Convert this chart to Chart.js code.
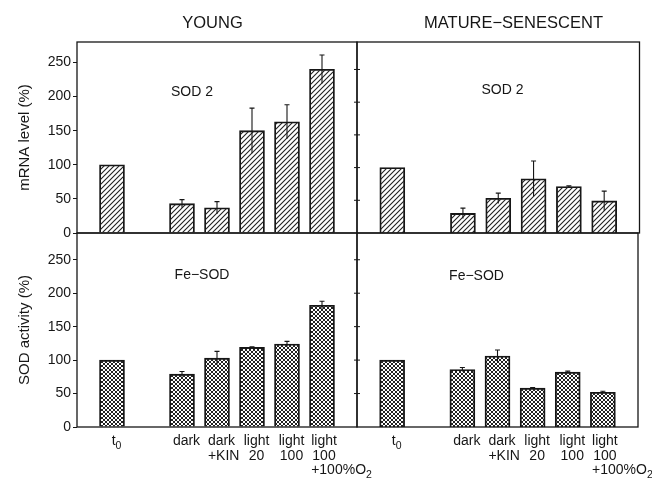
<!DOCTYPE html>
<html>
<head>
<meta charset="utf-8">
<script src="https://cdn.jsdelivr.net/npm/chart.js@4.4.1/dist/chart.umd.min.js"></script>
<style>
  body { margin: 0; background: #fff; }
  #wrap { position: relative; width: 652px; height: 480px; }
  #wrap canvas { position: absolute; left: 0; top: 0; }
</style>
</head>
<body>
<div id="wrap">
  <canvas id="youngMrna" width="652" height="480"></canvas>
  <canvas id="matureMrna" width="652" height="480"></canvas>
  <canvas id="youngSod" width="652" height="480"></canvas>
  <canvas id="matureSod" width="652" height="480"></canvas>
</div>
<script>
// slots 0, 2 and 8 are empty spacers so bars land where the figure has them
const categories = ['', 't₀', '', 'dark', ['dark', '+KIN'], ['light', '20'], ['light', '100'], ['light', '100', '+100%O₂'], ''];

const youngMrna      = [null, 100, null, 43, 37, 150, 163, 240, null];
const youngMrnaErr   = [null, 0, null, 6, 9, 33, 25, 21, null];
const matureMrna     = [null, 100, null, 30, 53, 83, 71, 49, null];
const matureMrnaErr  = [null, 0, null, 8, 8, 27, 1, 15, null];
const youngSod       = [null, 100, null, 79, 103, 119, 124, 182, null];
const youngSodErr    = [null, 0, null, 4, 10, 1, 4, 6, null];
const matureSod      = [null, 100, null, 86, 106, 58, 82, 52, null];
const matureSodErr   = [null, 0, null, 3, 9, 1, 1.5, 1.5, null];

const yTicks = [0, 50, 100, 150, 200, 250];

const FONT = '"Liberation Sans", Arial, sans-serif';
const INK = '#161616';

function makeHatch() {
  const c = document.createElement('canvas');
  c.width = 5; c.height = 5;
  const g = c.getContext('2d');
  g.strokeStyle = '#222';
  g.lineWidth = 1.1;
  g.beginPath();
  g.moveTo(0, 5); g.lineTo(5, 0);
  g.moveTo(-1, 1); g.lineTo(1, -1);
  g.moveTo(4, 6); g.lineTo(6, 4);
  g.stroke();
  return g.createPattern(c, 'repeat');
}

function makeCross() {
  const c = document.createElement('canvas');
  c.width = 4; c.height = 4;
  const g = c.getContext('2d');
  g.strokeStyle = '#222';
  g.lineWidth = 1;
  g.beginPath();
  g.moveTo(0, 4); g.lineTo(4, 0);
  g.moveTo(0, 0); g.lineTo(4, 4);
  g.stroke();
  return g.createPattern(c, 'repeat');
}

const hatch = makeHatch();
const cross = makeCross();

// draws text, turning unicode subscript digits into lowered small digits
const SUBS = '₀₁₂₃₄₅₆₇₈₉';
function richParts(text) {
  const parts = [];
  for (const ch of text) {
    const sub = SUBS.indexOf(ch) >= 0;
    const c = sub ? String(SUBS.indexOf(ch)) : ch;
    const last = parts[parts.length - 1];
    if (last && last.sub === sub) last.t += c; else parts.push({ t: c, sub });
  }
  return parts;
}
function richWidth(ctx, text, size) {
  let w = 0;
  richParts(text).forEach(p => {
    ctx.font = (p.sub ? size * 0.75 : size) + 'px ' + FONT;
    w += ctx.measureText(p.t).width;
  });
  return w;
}
function drawRich(ctx, text, x, y, size) {
  let cx = x;
  richParts(text).forEach(p => {
    ctx.font = (p.sub ? size * 0.75 : size) + 'px ' + FONT;
    ctx.fillText(p.t, cx, p.sub ? y + size * 0.3 : y);
    cx += ctx.measureText(p.t).width;
  });
}

function makePanel(id, cfg) {
  const decor = {
    id: 'decor',
    afterDatasetsDraw(chart) {
      const ctx = chart.ctx;
      const y = chart.scales.y;
      const meta = chart.getDatasetMeta(0);
      ctx.save();
      ctx.strokeStyle = INK;
      ctx.lineWidth = 1.1;
      meta.data.forEach((bar, i) => {
        const v = cfg.values[i], e = cfg.errors[i];
        if (v == null || !e) return;
        const top = y.getPixelForValue(v + e);
        const bot = y.getPixelForValue(v - e);
        ctx.beginPath();
        ctx.moveTo(bar.x, bot); ctx.lineTo(bar.x, top);
        ctx.moveTo(bar.x - 2.5, top); ctx.lineTo(bar.x + 2.5, top);
        ctx.stroke();
      });
      ctx.restore();
    },
    afterDraw(chart) {
      const ctx = chart.ctx;
      const a = chart.chartArea;
      const y = chart.scales.y;
      const x = chart.scales.x;
      ctx.save();
      ctx.strokeStyle = INK;
      ctx.lineWidth = 1.3;
      ctx.strokeRect(a.left, a.top, a.right - a.left, a.bottom - a.top);

      if (cfg.innerTicks) {
        ctx.lineWidth = 1;
        yTicks.slice(1).forEach(t => {
          const py = y.getPixelForValue(t);
          ctx.beginPath();
          ctx.moveTo(a.left - 3, py); ctx.lineTo(a.left + 3, py);
          ctx.stroke();
        });
      }

      ctx.fillStyle = INK;
      ctx.textBaseline = 'middle';
      ctx.textAlign = 'center';
      ctx.font = '14px ' + FONT;
      ctx.fillText(cfg.label, a.left + cfg.labelDx, a.top + cfg.labelDy);

      if (cfg.header) {
        ctx.font = '16.5px ' + FONT;
        ctx.fillText(cfg.header, cfg.headerX, 23);
      }

      if (cfg.showX) {
        ctx.textBaseline = 'alphabetic';
        ctx.textAlign = 'left';
        const size = 14;
        categories.forEach((lab, i) => {
          if (!lab) return;
          const lines = Array.isArray(lab) ? lab : [lab];
          const cx = x.getPixelForValue(i) + (lines.length > 2 ? 2 : 4.5);
          const w0 = richWidth(ctx, lines[0], size);
          const start = cx - w0 / 2;
          lines.forEach((ln, k) => {
            const w = richWidth(ctx, ln, size);
            const lx = ln[0] === '+' ? start : cx - w / 2;
            drawRich(ctx, ln, lx, 445 + k * 14.5, size);
          });
        });
      }
      ctx.restore();
    }
  };

  return new Chart(document.getElementById(id), {
    type: 'bar',
    data: {
      labels: categories,
      datasets: [{
        data: cfg.values,
        backgroundColor: cfg.fill,
        borderColor: INK,
        borderWidth: 1.2,
        barThickness: 25
      }]
    },
    options: {
      responsive: false,
      animation: false,
      devicePixelRatio: 1,
      layout: { padding: cfg.padding },
      plugins: { legend: { display: false }, tooltip: { enabled: false } },
      scales: {
        x: { type: 'category', offset: false, display: false },
        y: {
          display: cfg.showY,
          min: 0,
          max: cfg.max,
          afterBuildTicks: s => { s.ticks = s.ticks.filter(t => yTicks.includes(t.value)); },
          afterFit: s => { s.width = cfg.showY ? 77 : 0; },
          border: { display: false },
          grid: { drawOnChartArea: false, drawTicks: true, tickLength: 4, color: INK },
          ticks: { stepSize: 50, padding: 2, color: INK, font: { family: FONT, size: 14 } },
          title: {
            display: cfg.showY,
            text: cfg.yTitle || '',
            color: INK,
            padding: { top: 16, bottom: 0 },
            font: { family: FONT, size: 15 }
          }
        }
      }
    },
    plugins: [decor]
  });
}

makePanel('youngMrna', {
  values: youngMrna, errors: youngMrnaErr, fill: hatch, max: 280,
  padding: { left: 0, top: 42, right: 295, bottom: 247 },
  showY: true, yTitle: 'mRNA level (%)',
  label: 'SOD 2', labelDx: 115, labelDy: 50,
  header: 'YOUNG', headerX: 212.5
});
makePanel('matureMrna', {
  values: matureMrna, errors: matureMrnaErr, fill: hatch, max: 292,
  padding: { left: 357, top: 42, right: 12.5, bottom: 247 },
  showY: false, innerTicks: true,
  label: 'SOD 2', labelDx: 145.5, labelDy: 48,
  header: 'MATURE−SENESCENT', headerX: 513.5
});
makePanel('youngSod', {
  values: youngSod, errors: youngSodErr, fill: cross, max: 290,
  padding: { left: 0, top: 233, right: 295, bottom: 53 },
  showY: true, yTitle: 'SOD activity (%)', showX: true,
  label: 'Fe−SOD', labelDx: 125, labelDy: 42
});
makePanel('matureSod', {
  values: matureSod, errors: matureSodErr, fill: cross, max: 290,
  padding: { left: 357, top: 233, right: 14, bottom: 53 },
  showY: false, innerTicks: true, showX: true,
  label: 'Fe−SOD', labelDx: 119.5, labelDy: 43.5
});
</script>
</body>
</html>
